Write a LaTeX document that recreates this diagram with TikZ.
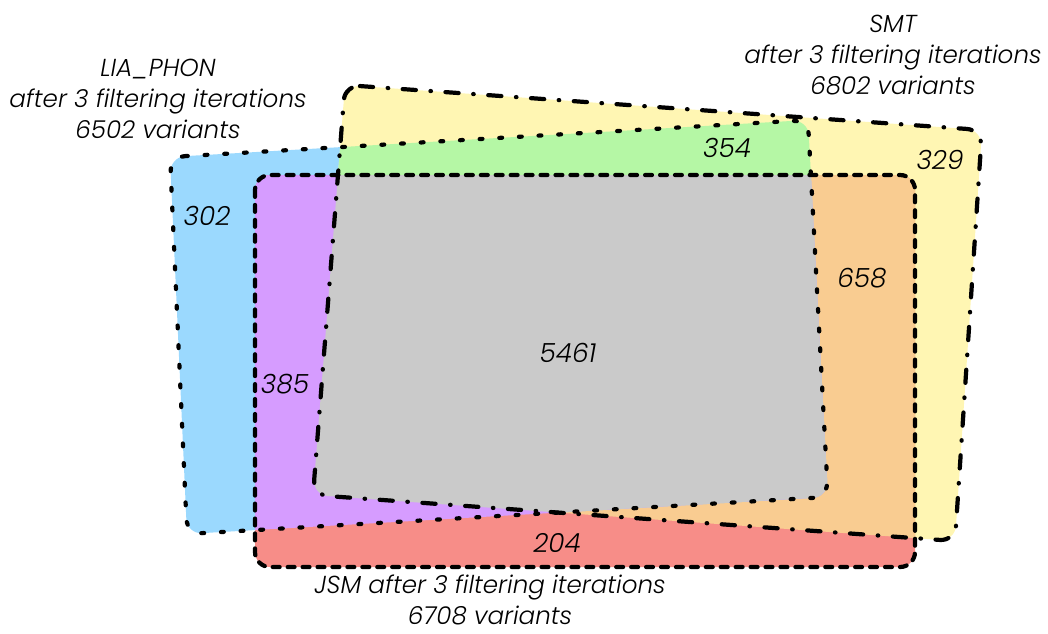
\documentclass[tikz,border=0pt]{standalone}
\usepackage{fontspec}
\IfFontExistsTF{Poppins Light Italic}
  {\setmainfont{Poppins}[UprightFont=* Light, ItalicFont=* Light Italic]}
  {\setmainfont{Poppins}}
\definecolor{liablue}{RGB}{155,217,254}
\definecolor{smtyellow}{RGB}{255,246,179}
\definecolor{liasmt}{RGB}{181,247,165}
\definecolor{liajsm}{RGB}{214,156,255}
\definecolor{smtjsm}{RGB}{249,204,145}
\definecolor{jsmred}{RGB}{247,141,136}
\definecolor{allgray}{RGB}{202,202,202}

% outlines of the three sets, in pixel units
\def\liashape{(170,157) -- (808,120) -- (828,497) -- (187,534) -- cycle}
\def\smtshape{(345,85) -- (982,130) -- (955,541) -- (313,495) -- cycle}
\def\jsmshape{(255,175) rectangle (915,567)}

\begin{document}
\begin{tikzpicture}[x=0.02cm,y=-0.02cm,
  round/.style={rounded corners=0.3cm},
  edge/.style={round, line width=2.4pt, line cap=round, black},
  lbl/.style={font=\itshape\fontsize{14}{17.6}\selectfont, align=center, inner sep=0pt},
  num/.style={font=\itshape\fontsize{15}{18}\selectfont, inner sep=0pt}]

\useasboundingbox (0,0) rectangle (1048,633);

% plain regions
\fill[liablue, round] \liashape;
\fill[smtyellow, round] \smtshape;
\fill[jsmred, round] \jsmshape;

% overlaps
\begin{scope}
  \clip[round] \smtshape;
  \fill[smtjsm, round] \jsmshape;
\end{scope}
\begin{scope}
  \clip[round] \liashape;
  \fill[liasmt, round] \smtshape;
  \fill[liajsm, round] \jsmshape;
  \clip[round] \smtshape;
  \fill[allgray, round] \jsmshape;
\end{scope}

% borders
\draw[edge, dash pattern=on 1.6pt off 9.6pt] \liashape;
\draw[edge, dash pattern=on 7.5pt off 8.3pt on 0.3pt off 8.3pt] \smtshape;
\draw[edge, dash pattern=on 3.9pt off 4.6pt] \jsmshape;

% set names
\node[lbl] (lia) at (158,99) {LIA\_PHON\\after 3 filtering iterations\\6502 variants};
\node[lbl] (smt) at (893,55) {SMT\\after 3 filtering iterations\\6802 variants};
\node[lbl] (jsm) at (490,600) {JSM after 3 filtering iterations\\6708 variants};

% counts
\node[num] (n302) at (207,216) {302};
\node[num] (n354) at (727,148) {354};
\node[num] (n329) at (940,160) {329};
\node[num] (n658) at (862,278) {658};
\node[num] (n5461) at (568,353) {5461};
\node[num] (n385) at (285,384) {385};
\node[num] (n204) at (557,543) {204};

\end{tikzpicture}
\end{document}
